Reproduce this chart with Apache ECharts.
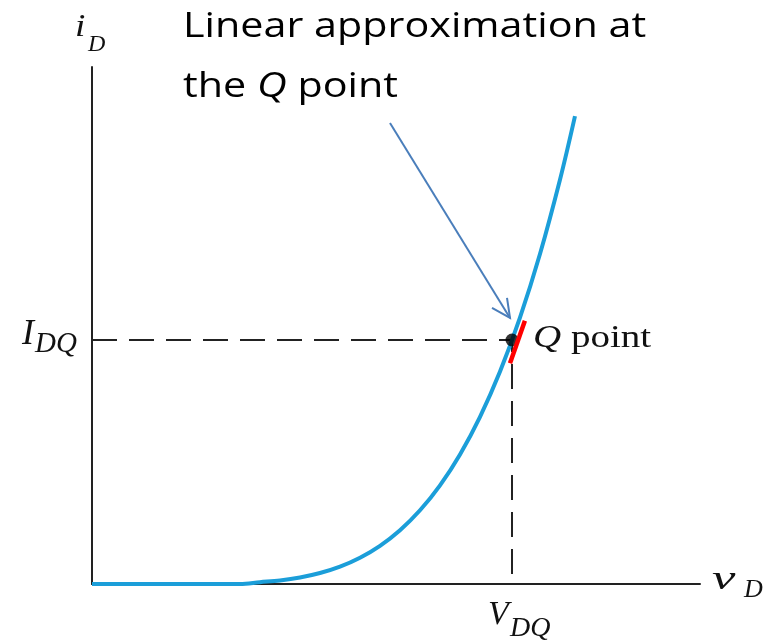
<!DOCTYPE html>
<html>
<head>
<meta charset="utf-8">
<script src="https://cdn.jsdelivr.net/npm/echarts@6/dist/echarts.min.js"></script>
<style>
  html, body { margin: 0; padding: 0; background: #fff; }
  #chart { width: 765px; height: 640px; }
</style>
</head>
<body>
<div id="chart"></div>
<script>
// Diode characteristic i_D(v_D), normalised units
const vD = [0, 2.434, 2.763, 3.092, 3.421, 3.750, 4.079, 4.408, 4.737, 5.066, 5.395, 5.724, 6.053, 6.382, 6.711, 7.039, 7.368, 7.697, 7.944];
const iD = [0, 0, 0.035, 0.069, 0.126, 0.212, 0.336, 0.508, 0.739, 1.041, 1.426, 1.909, 2.507, 3.234, 4.110, 5.153, 6.383, 7.820, 9.050];

// Operating (Q) point
const qPoint = [6.908, 4.72];

// Short tangent segment through the Q point
const tangentV = [6.875, 7.12];
const tangentI = [4.27, 5.09];

const axisMin = 0, axisMax = 10;

const curveData = vD.map((v, k) => [v, iD[k]]);
const tangentData = tangentV.map((v, k) => [v, tangentI[k]]);
const guideData = [[axisMin, qPoint[1]], qPoint, [qPoint[0], axisMin]];

const chart = echarts.init(document.getElementById('chart'));

const serif = '"Liberation Serif", "Times New Roman", serif';
const sans = '"Open Sans", "Noto Sans", sans-serif';
const ASC = 0.8; // distance from top of text box to baseline, in em

chart.setOption({
  animation: false,
  backgroundColor: '#ffffff',
  grid: { left: 92, right: 65, top: 67, bottom: 56 },
  xAxis: {
    type: 'value', min: axisMin, max: axisMax,
    axisLine: { show: true, onZero: false, lineStyle: { color: '#222', width: 2 } },
    axisTick: { show: false }, axisLabel: { show: false }, splitLine: { show: false }
  },
  yAxis: {
    type: 'value', min: axisMin, max: axisMax,
    axisLine: { show: true, onZero: false, lineStyle: { color: '#222', width: 2 } },
    axisTick: { show: false }, axisLabel: { show: false }, splitLine: { show: false }
  },
  series: [
    {
      name: 'guides', type: 'line', data: guideData, showSymbol: false, z: 1,
      lineStyle: { color: '#222', width: 2, type: [25, 12] }
    },
    {
      name: 'iD', type: 'line', data: curveData, smooth: 0.35,
      showSymbol: false, z: 2,
      lineStyle: { color: '#1b9ed9', width: 4 }
    },
    {
      name: 'Q', type: 'scatter', data: [qPoint], symbolSize: 13, z: 3,
      itemStyle: { color: '#000' }
    },
    {
      name: 'tangent', type: 'line', data: tangentData, showSymbol: false, z: 4,
      lineStyle: { color: '#ff0000', width: 4.5 }
    }
  ]
});

// Text placed by its baseline
function textAt(x, base, str, font, extra) {
  return Object.assign({
    type: 'text', x: x, y: base - ASC * parseFloat(font.match(/(\d+(\.\d+)?)px/)[1]),
    style: { text: str, font: font, fill: '#111', align: 'left', verticalAlign: 'top' }
  }, extra || {});
}

// Label with a subscript: main glyph plus smaller subscript text
function subLabel(x, base, main, sub, mainSize, subSize, subDx, subDrop, mainScale) {
  return {
    type: 'group',
    children: [
      textAt(x, base, main, 'italic ' + mainSize + 'px ' + serif, { scaleX: mainScale || 1 }),
      textAt(x + subDx, base + subDrop, sub, 'italic ' + subSize + 'px ' + serif)
    ]
  };
}

const q = chart.convertToPixel({ seriesIndex: 0 }, qPoint);
const origin = chart.convertToPixel({ seriesIndex: 0 }, [axisMin, axisMin]);
const xEnd = chart.convertToPixel({ seriesIndex: 0 }, [axisMax, axisMin]);
const yEnd = chart.convertToPixel({ seriesIndex: 0 }, [axisMin, axisMax]);

const tip = [q[0] - 2, q[1] - 22];
const titleSize = 35;

chart.setOption({
  graphic: [
    // annotation text
    { type: 'text', x: 183, y: 38 - ASC * titleSize, scaleX: 1.18,
      style: { text: 'Linear approximation at', font: titleSize + 'px ' + sans, fill: '#000', verticalAlign: 'top' } },
    { type: 'text', x: 183, y: 98 - ASC * titleSize, scaleX: 1.18,
      style: { text: '{a|the }{b|Q}{a| point}', fill: '#000', verticalAlign: 'top',
               rich: { a: { font: titleSize + 'px ' + sans, fill: '#000' },
                       b: { font: 'italic ' + titleSize + 'px ' + sans, fill: '#000' } } } },
    // arrow pointing at the Q point
    { type: 'polyline', shape: { points: [[390, 123], tip] },
      style: { stroke: '#4a7ebb', lineWidth: 2, fill: null } },
    { type: 'polyline', shape: { points: [[tip[0] - 18, tip[1] - 10], tip, [tip[0] - 3, tip[1] - 20]] },
      style: { stroke: '#4a7ebb', lineWidth: 2, fill: null } },
    // axis names and Q-point labels
    subLabel(yEnd[0] - 17, yEnd[1] - 30, 'i', 'D', 31, 24, 13, 15, 1.2),
    subLabel(xEnd[0] + 12, xEnd[1] + 6, 'v', 'D', 33, 26, 32, 8, 1.6),
    subLabel(origin[0] - 70, q[1] + 5, 'I', 'DQ', 36, 29, 13, 8),
    subLabel(q[0] - 24, origin[1] + 41, 'V', 'DQ', 34, 28, 22, 12),
    textAt(q[0] + 21, q[1] + 8, '{q|Q} {p|point}', '32px ' + serif, {
      scaleX: 1.22,
      style: { text: '{q|Q}{p| point}', verticalAlign: 'top',
               rich: { q: { font: 'italic 32px ' + serif, fill: '#111' },
                       p: { font: '32px ' + serif, fill: '#111' } } } })
  ]
});
</script>
</body>
</html>
